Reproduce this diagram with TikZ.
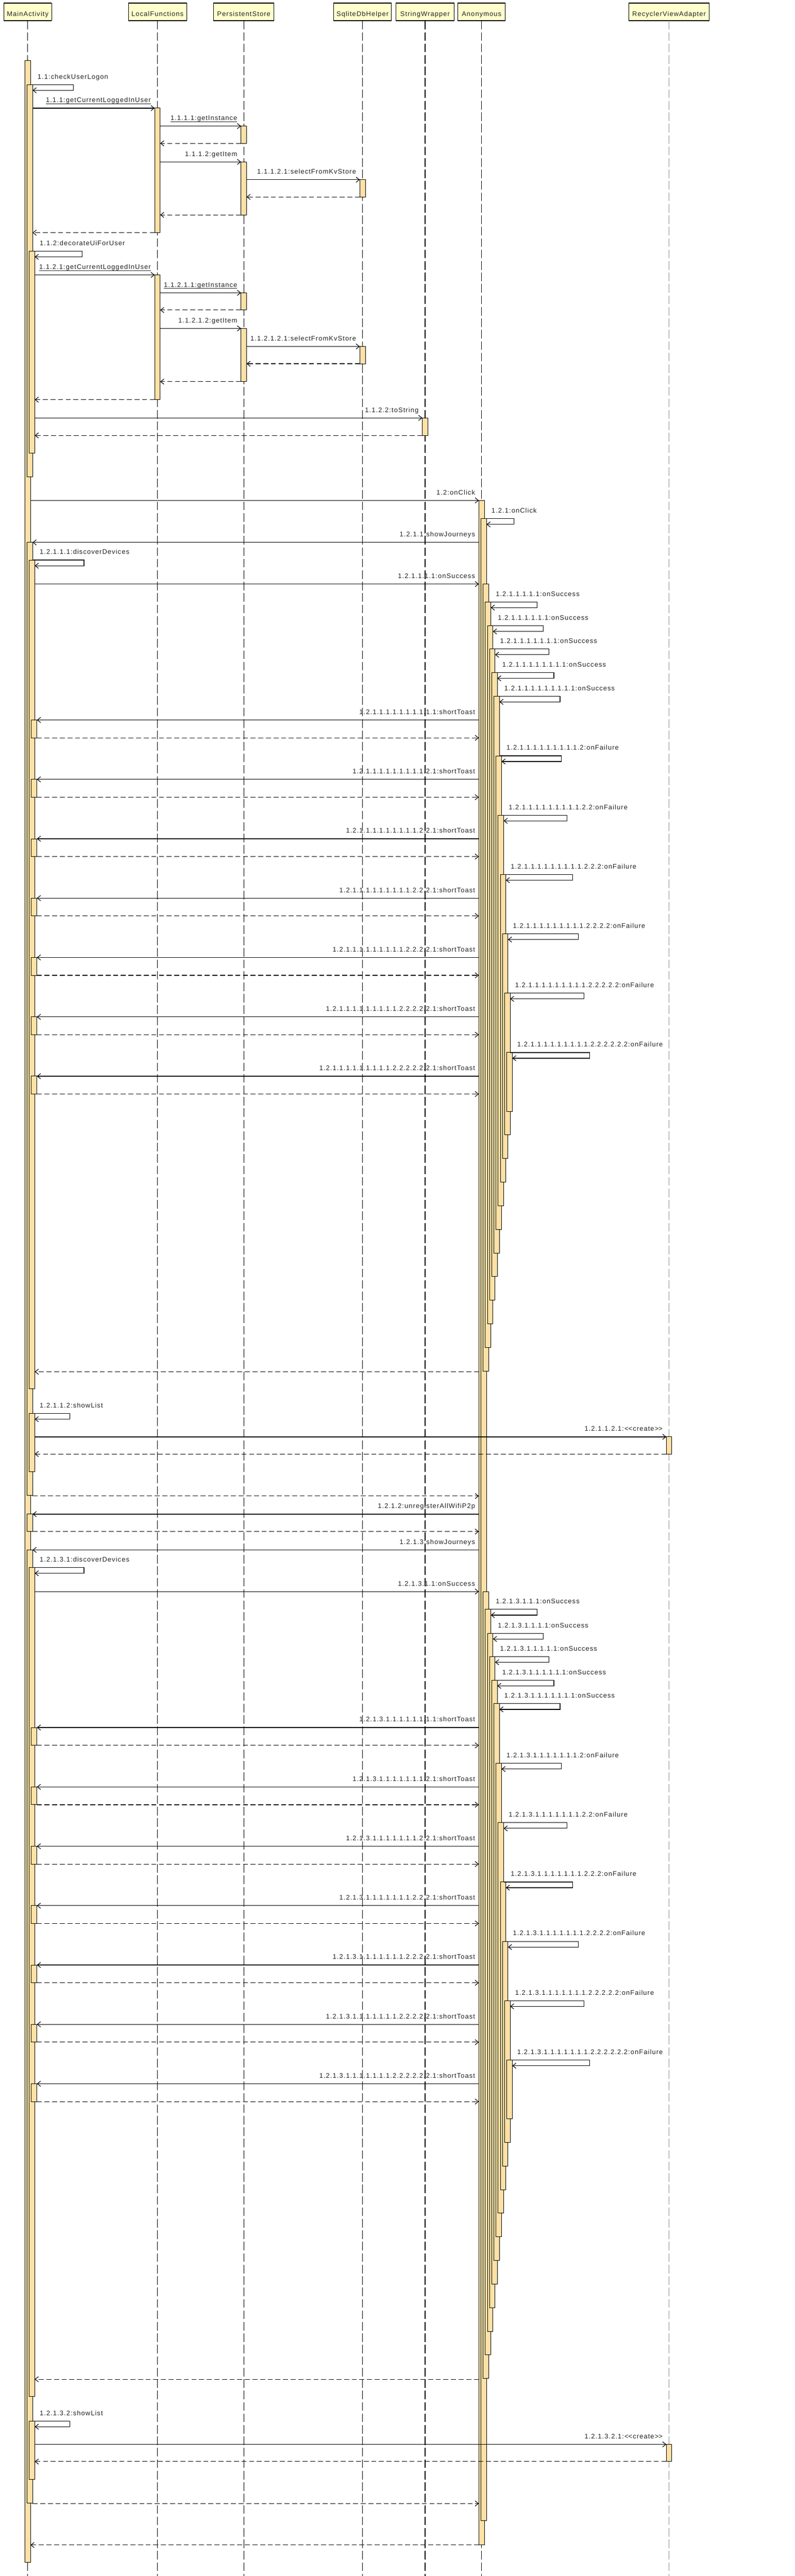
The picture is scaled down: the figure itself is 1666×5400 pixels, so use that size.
\documentclass[tikz,border=0pt]{standalone}
\usepackage{fontspec}
\setmainfont{Liberation Sans}
\newfontfamily\lblfont[LetterSpace=8.2]{Liberation Sans}
\usetikzlibrary{arrows.meta}
\definecolor{actfill}{RGB}{255,224,165}
\definecolor{headfill}{RGB}{255,255,204}
\definecolor{txtc}{RGB}{35,35,35}
\tikzset{
  lbl/.style={inner sep=0pt, outer sep=0pt, font=\lblfont\fontsize{14}{16}\selectfont, text=txtc},
  msg/.style={draw=black, line width=1.3pt, -{Straight Barb[length=7pt,width=11pt,line width=1.2pt]}},
  retmsg/.style={msg, dash pattern=on 10.5pt off 5.5pt},
  actbox/.style={fill=actfill, draw=black, line width=1pt},
  lifeline/.style={draw=black, line width=1.2pt, dash pattern=on 18pt off 6pt},
  headbox/.style={fill=headfill, draw=black, line width=1pt, inner sep=0pt},
}
\newcount\ec
\newcommand\nid{\global\advance\ec by 1\relax}
\newcommand\act[4]{\draw[actbox] ({#1-5.75+4.5*(#2)},{#3}) rectangle ({#1+5.75+4.5*(#2)},{#4});}
\newcommand\callR[4]{\nid
  \coordinate (a\the\ec) at ({#1},{#3});
  \coordinate (b\the\ec) at ({#2},{#3});
  \draw[msg] (a\the\ec) -- (b\the\ec);
  \node[lbl,anchor=base east] (t\the\ec) at ({#2-8},{#3-12}) {#4};}
\newcommand\callRu[4]{\callR{#1}{#2}{#3}{#4}%
  \draw[line width=1pt,txtc] ([yshift=-2.8pt]t\the\ec.base west) -- ([yshift=-2.8pt]t\the\ec.base east);}
\newcommand\callL[4]{\nid
  \coordinate (a\the\ec) at ({#1},{#3});
  \coordinate (b\the\ec) at ({#2},{#3});
  \draw[msg] (a\the\ec) -- (b\the\ec);
  \node[lbl,anchor=base east] (t\the\ec) at ({#1-8},{#3-12}) {#4};}
\newcommand\ret[3]{\nid
  \coordinate (a\the\ec) at ({#1},{#3});
  \coordinate (b\the\ec) at ({#2},{#3});
  \draw[retmsg] (a\the\ec) -- (b\the\ec);}
\newcommand\selfm[5]{\nid
  \coordinate (a\the\ec) at ({#1},{#3});
  \coordinate (c\the\ec) at ({#2},{#3});
  \coordinate (d\the\ec) at ({#2},{#3+12});
  \coordinate (b\the\ec) at ({#4},{#3+12});
  \draw[msg] (a\the\ec) -- (c\the\ec) -- (d\the\ec) -- (b\the\ec);
  \node[lbl,anchor=base west] (t\the\ec) at ({#1+15},{#3-12}) {#5};}
\newcommand\chainbars[1]{%
  \act{58}{1}{1137+#1}{3135+#1}
  \act{58}{2}{1174+#1}{2911+#1}
  \act{1009.5}{2}{1224.3+#1}{2874+#1}
  \act{1009.5}{3}{1261.7+#1}{2824.5+#1}
  \act{1009.5}{4}{1311.7+#1}{2775+#1}
  \act{1009.5}{5}{1360.5+#1}{2725.5+#1}
  \act{1009.5}{6}{1410+#1}{2676+#1}
  \act{1009.5}{7}{1459.3+#1}{2626.5+#1}
  \foreach \k in {1,...,6}{\act{1009.5}{7+\k}{1459.9+124.4*\k+#1}{2626.5-49.5*\k+#1}}
  \foreach \k in {0,...,6}{\act{58}{3}{1509.3+124.45*\k+#1}{1546.7+124.45*\k+#1}}
  \act{58}{2}{2963+#1}{3085+#1}
  \act{1402.5}{0}{3012+#1}{3048+#1}
}
\newcommand\chainmsgs[2]{%
  \callL{1003.75}{68.25}{1137+#1}{#2:showJourneys}
  \selfm{68.25}{176}{1174+#1}{72.75}{#2.1:discoverDevices}
  \callR{72.75}{1003.75}{1224.3+#1}{#2.1.1:onSuccess}
  \selfm{1024.25}{1126}{1261.7+#1}{1028.75}{#2.1.1.1:onSuccess}
  \selfm{1028.75}{1139}{1311.7+#1}{1033.25}{#2.1.1.1.1:onSuccess}
  \selfm{1033.25}{1151}{1360.5+#1}{1037.75}{#2.1.1.1.1.1:onSuccess}
  \selfm{1037.75}{1161}{1410+#1}{1042.25}{#2.1.1.1.1.1.1:onSuccess}
  \selfm{1042.25}{1174}{1459.3+#1}{1046.75}{#2.1.1.1.1.1.1.1:onSuccess}
  \foreach \k/\suf in {0/.1,1/.2.1,2/.2.2.1,3/.2.2.2.1,4/.2.2.2.2.1,5/.2.2.2.2.2.1,6/.2.2.2.2.2.2.1}{
    \callL{1003.75}{77.25}{1509.3+124.45*\k+#1}{#2.1.1.1.1.1.1.1\suf:shortToast}
    \ret{77.25}{1003.75}{1546.7+124.45*\k+#1}
  }
  \foreach \k/\suf in {1/.2,2/.2.2,3/.2.2.2,4/.2.2.2.2,5/.2.2.2.2.2,6/.2.2.2.2.2.2}{
    \selfm{1042.25+4.5*\k}{1165.2+11.8*\k}{1459.9+124.4*\k+#1}{1046.75+4.5*\k}{#2.1.1.1.1.1.1.1\suf:onFailure}
  }
  \ret{1003.75}{72.75}{2875.5+#1}
  \selfm{68.25}{146.6}{2963+#1}{72.75}{#2.2:showList}
  \callR{72.75}{1396.75}{3012+#1}{#2.2.1:<\kern0pt<create>\kern0pt>}
  \ret{1396.75}{72.75}{3048+#1}
  \ret{68.25}{1003.75}{3136+#1}
}
\begin{document}
\begin{tikzpicture}[x=1pt,y=-1pt]
\useasboundingbox (0,0) rectangle (1666,5400);
\fill[white] (0,0) rectangle (1666,5400);
% headers
\foreach \n/\cx/\bw/\t in {Main/58/100/MainActivity, Local/330/122/LocalFunctions, Pers/511/126/PersistentStore, Sql/760/121/SqliteDbHelper, Str/891/122/StringWrapper, Anon/1009.5/99/Anonymous, Rec/1402.5/168/RecyclerViewAdapter}{
  \node[headbox, minimum width=\bw pt, minimum height=36pt] (h\n) at (\cx,25) {};
  \node[lbl, anchor=base] (ht\n) at (\cx,33.5) {\t};
  \draw[line width=2.2pt] (h\n.north west) -- (h\n.north east);
  \draw[line width=2.2pt] (h\n.south west) -- (h\n.south east);
  \coordinate (e\n) at (\cx,5400);
}
\foreach \n in {Main,Local,Pers,Sql,Str,Anon}{\draw[lifeline] (h\n.south) -- (e\n);}
\draw[lifeline, draw=black!45] (hRec.south) -- (eRec);
% activation bars
\act{58}{0}{126.7}{5371}
\act{58}{1}{177.3}{999.2}
\act{330}{0}{226.7}{487.3}
\act{511}{0}{264.3}{300.5}
\act{511}{0}{339.3}{450.5}
\act{760}{0}{376.7}{412.8}
\act{58}{2}{526.5}{949.4}
\act{330}{0}{576.3}{837.8}
\act{511}{0}{613.8}{650}
\act{511}{0}{688.4}{800}
\act{760}{0}{726.3}{762.5}
\act{891}{0}{876}{912.8}
\act{1009.5}{0}{1049}{5334.5}
\act{1009.5}{1}{1087.3}{5284}
\chainbars{0}
\act{58}{1}{3174}{3210.5}
\chainbars{2112}
% messages
\selfm{63.75}{154}{177.3}{68.25}{1.1:checkUserLogon}
\callRu{68.25}{324.25}{226.7}{1.1.1:getCurrentLoggedInUser}
\callRu{335.75}{505.25}{264.3}{1.1.1.1:getInstance}
\ret{505.25}{335.75}{300.5}
\callR{335.75}{505.25}{339.3}{1.1.1.2:getItem}
\callR{516.75}{754.25}{376.7}{1.1.1.2.1:selectFromKvStore}
\ret{754.25}{516.75}{412.8}
\ret{505.25}{335.75}{450.5}
\ret{324.25}{68.25}{487.8}
\selfm{68.25}{172}{526.5}{72.75}{1.1.2:decorateUiForUser}
\callRu{72.75}{324.25}{576.3}{1.1.2.1:getCurrentLoggedInUser}
\callRu{335.75}{505.25}{613.8}{1.1.2.1.1:getInstance}
\ret{505.25}{335.75}{650}
\callR{335.75}{505.25}{688.4}{1.1.2.1.2:getItem}
\callR{516.75}{754.25}{726.3}{1.1.2.1.2.1:selectFromKvStore}
\ret{754.25}{516.75}{762.5}
\ret{505.25}{335.75}{800}
\ret{324.25}{72.75}{837.8}
\callR{72.75}{885.25}{876}{1.1.2.2:toString}
\ret{885.25}{72.75}{912.8}
\callR{63.75}{1003.75}{1049}{1.2:onClick}
\selfm{1015.25}{1077}{1087.3}{1019.75}{1.2.1:onClick}
\chainmsgs{0}{1.2.1.1}
\callL{1003.75}{68.25}{3174}{1.2.1.2:unregisterAllWifiP2p}
\ret{68.25}{1003.75}{3210.5}
\chainmsgs{2112}{1.2.1.3}
\ret{1003.75}{63.75}{5335}
\end{tikzpicture}
\end{document}
